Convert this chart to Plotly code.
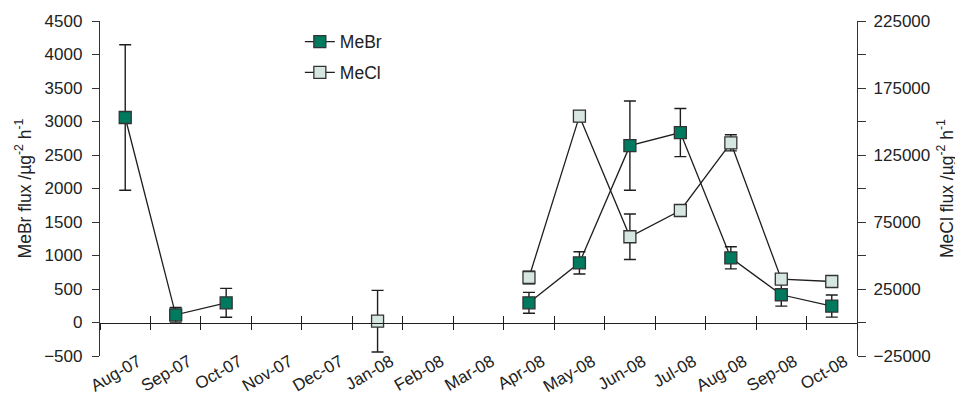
import plotly.graph_objects as go

months = ["Aug-07", "Sep-07", "Oct-07", "Nov-07", "Dec-07", "Jan-08", "Feb-08", "Mar-08",
          "Apr-08", "May-08", "Jun-08", "Jul-08", "Aug-08", "Sep-08", "Oct-08"]

mebr = [3060, 115, 294, None, None, None, None, None, 294, 890, 2640, 2835, 965, 414, 245]
mebr_err = [1085, 110, 215, None, None, None, None, None, 155, 165, 665, 360, 165, 170, 165]

mecl = [None, None, None, None, None, 1000, None, None, 33600, 154000, 64000, 83600, 134100, 32300, 30600]
mecl_err = [None, None, None, None, None, 23000, None, None, 4700, 4000, 17000, 3500, 6000, 1200, 1200]

FONT = "Liberation Sans, Arial, sans-serif"
GREEN = "#007A5E"
LIGHT = "#D6E7E1"
LINE = "#1e1e1e"
TXT = "#222222"

fig = go.Figure()

fig.add_trace(go.Scatter(
    x=months, y=mebr, name="MeBr", mode="lines+markers",
    line=dict(color=LINE, width=1.3), connectgaps=False,
    marker=dict(symbol="square", size=12, color=GREEN, line=dict(color="#333", width=1.3)),
    error_y=dict(type="data", array=mebr_err, visible=True, color=LINE, thickness=1.4, width=6),
    legend="legend", yaxis="y", xaxis="x",
))
fig.add_trace(go.Scatter(
    x=months, y=mecl, name="MeCl", mode="lines+markers",
    line=dict(color=LINE, width=1.3), connectgaps=False,
    marker=dict(symbol="square", size=12, color=LIGHT, line=dict(color="#333", width=1.3)),
    error_y=dict(type="data", array=mecl_err, visible=True, color=LINE, thickness=1.4, width=6),
    legend="legend2", yaxis="y2", xaxis="x",
))

tick_font = dict(family=FONT, size=17, color=TXT)
title_font = dict(family=FONT, size=17.5, color=TXT)

fig.update_layout(
    width=955, height=390,
    margin=dict(l=92, r=106, t=13, b=42),
    paper_bgcolor="white", plot_bgcolor="white",
    font=tick_font,
    showlegend=True,
    xaxis=dict(
        type="category", categoryorder="array", categoryarray=months,
        range=[-0.5, 14.5], showline=False, showgrid=False, zeroline=False,
        anchor="free", position=0.025,
        ticks="", tickangle=-30, tickfont=tick_font, ticklabelshift=13, automargin=False,
    ),
    xaxis2=dict(
        overlaying="x", anchor="free", position=0.1, range=[-0.5, 14.5],
        showline=True, linecolor=LINE, linewidth=1.3, showgrid=False, zeroline=False,
        ticks="outside", ticklen=6, tickwidth=1.3, tickcolor=LINE,
        tick0=0.5, dtick=1, showticklabels=False,
    ),
    xaxis3=dict(
        overlaying="x", anchor="free", position=0.1, range=[-0.5, 14.5],
        showline=False, showgrid=False, zeroline=False,
        ticks="inside", ticklen=7, tickwidth=1.3, tickcolor=LINE,
        tick0=0.5, dtick=1, showticklabels=False,
    ),
    yaxis=dict(
        range=[-500, 4500], tick0=-500, dtick=500, tickformat="d",
        showline=True, linecolor="#333", linewidth=1.3, showgrid=False, zeroline=False,
        ticks="outside", ticklen=7, tickwidth=1.3, tickcolor="#333", ticklabelstandoff=6,
        title=dict(text="MeBr flux /µg<sup>-2</sup> h<sup>-1</sup>", font=title_font, standoff=8),
        automargin=False,
    ),
    yaxis2=dict(
        overlaying="y", side="right", anchor="x",
        range=[-25000, 225000], tick0=-25000, dtick=50000, tickformat="d",
        showline=True, linecolor="#333", linewidth=1.3, showgrid=False, zeroline=False,
        ticks="outside", ticklen=8, tickwidth=1.3, tickcolor="#333", ticklabelstandoff=4,
        minor=dict(ticks="outside", tick0=0, dtick=25000, ticklen=8, tickwidth=1.3, tickcolor="#333"),
        title=dict(text="MeCl flux /µg<sup>-2</sup> h<sup>-1</sup>", font=title_font, standoff=10),
        automargin=False,
    ),
    legend=dict(x=0.264, y=0.992, xanchor="left", yanchor="top", bgcolor="rgba(0,0,0,0)",
                font=dict(family=FONT, size=17.5, color=TXT)),
    legend2=dict(x=0.264, y=0.9, xanchor="left", yanchor="top", bgcolor="rgba(0,0,0,0)",
                 font=dict(family=FONT, size=17.5, color=TXT)),
)

# invisible traces to activate the tick overlay axes
fig.add_trace(go.Scatter(x=[None], y=[None], xaxis="x2", yaxis="y", showlegend=False, hoverinfo="skip"))
fig.add_trace(go.Scatter(x=[None], y=[None], xaxis="x3", yaxis="y", showlegend=False, hoverinfo="skip"))

fig.write_html("out.html")
